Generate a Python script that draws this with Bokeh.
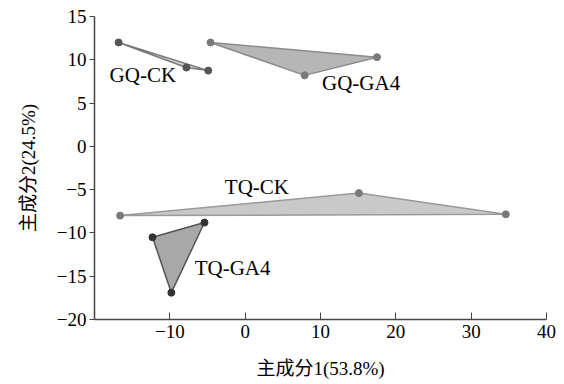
from bokeh.plotting import figure
from bokeh.models import FixedTicker
from bokeh.core.properties import value
from bokeh.embed import file_html
from bokeh.resources import INLINE

# PCA scores per group (PC1, PC2)
groups = ["GQ-CK", "GQ-GA4", "TQ-CK", "TQ-GA4"]
gq_ck_x = [-16.8, -7.8, -4.9]
gq_ck_y = [12.0, 9.1, 8.75]
gq_ga4_x = [-4.6, 17.5, 7.9]
gq_ga4_y = [12.0, 10.3, 8.2]
tq_ck_x = [-16.6, 15.1, 34.6]
tq_ck_y = [-8.0, -5.4, -7.85]
tq_ga4_x = [-12.3, -5.4, -9.8]
tq_ga4_y = [-10.5, -8.8, -16.9]

# group label anchors (data coords)
label_x = [-18.0, 10.2, -2.7, -6.7]
label_y = [8.2, 7.3, -4.7, -14.1]

x_ticks = [-10, 0, 10, 20, 30, 40]
y_ticks = [15, 10, 5, 0, -5, -10, -15, -20]
x_title = "主成分1(53.8%)"
y_title = "主成分2(24.5%)"

FONT = "Liberation Serif, Noto Sans CJK SC"

fills = ["#d4d4d4", "#b6b6b6", "#c9c9c9", "#a8a8a8"]
edges = ["#777777", "#8c8c8c", "#9a9a9a", "#555555"]
dots = ["#555555", "#7a7a7a", "#7a7a7a", "#333333"]

p = figure(width=556, height=384, output_backend="svg", toolbar_location=None,
           x_range=(-20, 40), y_range=(-20, 15),
           min_border_left=94, min_border_right=10, min_border_top=16, min_border_bottom=65)
p.outline_line_color = None
p.xgrid.visible = False
p.ygrid.visible = False
p.background_fill_color = "white"

xs = [gq_ck_x, gq_ga4_x, tq_ck_x, tq_ga4_x]
ys = [gq_ck_y, gq_ga4_y, tq_ck_y, tq_ga4_y]
order = [2, 0, 1, 3]
for i in order:
    p.patch(xs[i], ys[i], fill_color=fills[i], line_color=edges[i], line_width=1.5)
for i in order:
    p.scatter(xs[i], ys[i], size=7, fill_color=dots[i], line_color=dots[i])

p.text(x=label_x, y=label_y, text=groups, text_font=value(FONT), text_font_size="21px",
       text_color="black", text_align="left", text_baseline="middle")

def minus(v):
    return str(v).replace("-", "\u2212")

p.xaxis.ticker = FixedTicker(ticks=x_ticks)
p.yaxis.ticker = FixedTicker(ticks=y_ticks)
p.xaxis.major_label_overrides = {t: minus(t) for t in x_ticks}
p.yaxis.major_label_overrides = {t: minus(t) for t in y_ticks}
p.xaxis.minor_tick_line_color = None
p.yaxis.minor_tick_line_color = None
p.xaxis.major_tick_in = 7
p.xaxis.major_tick_out = 0
p.yaxis.major_tick_in = 0
p.yaxis.major_tick_out = 5
for ax in (p.xaxis, p.yaxis):
    ax.axis_line_color = "#444444"
    ax.major_tick_line_color = "#444444"
    ax.axis_line_width = 1.5
    ax.major_label_text_font = FONT
    ax.major_label_text_font_size = "19px"
    ax.major_label_text_color = "black"
    ax.axis_label_text_font = FONT
    ax.axis_label_text_font_size = "19px"
    ax.axis_label_text_font_style = "normal"
    ax.axis_label_text_color = "black"
p.xaxis.major_label_standoff = 5
p.yaxis.major_label_standoff = 3
p.xaxis.axis_label = x_title
p.yaxis.axis_label = y_title
p.xaxis.axis_label_standoff = 17
p.yaxis.axis_label_standoff = 15

open("out.html", "w").write(file_html(p, INLINE))
